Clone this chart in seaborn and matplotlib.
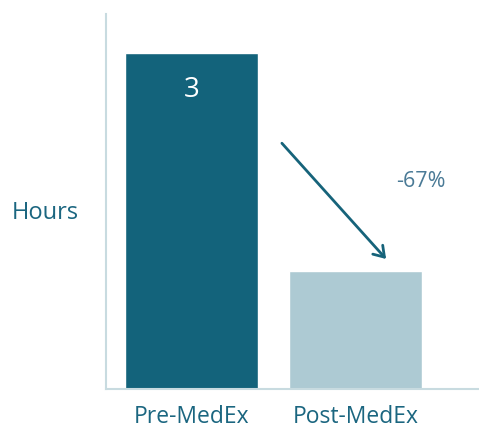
import matplotlib
matplotlib.use("Agg")
import matplotlib.pyplot as plt
import seaborn as sns
import pandas as pd

categories = ["Pre-MedEx", "Post-MedEx"]
hours = [3.0, 1.05]
bar_labels = ["3", ""]
change_label = "-67%"
colors = ["#13637b", "#adcad3"]

sns.set_theme(style="white")
plt.rcParams["font.family"] = ["Open Sans", "DejaVu Sans"]

df = pd.DataFrame({"cat": categories, "hours": hours})
fig = plt.figure(figsize=(4.79, 4.31), dpi=100)
ax = fig.add_axes([106/479, 41/431, 1 - 106/479, (390-15)/431])
sns.barplot(data=df, x="cat", y="hours", hue="cat", palette=colors,
            width=0.81, legend=False, ax=ax, saturation=1)

ax.set_xlim(-0.521, 1.753)
ax.set_ylim(0, 3.35)
ax.set_xlabel("")
ax.set_ylabel("")
ax.set_yticks([])
for s in ["top", "right"]:
    ax.spines[s].set_visible(False)
for s in ["left", "bottom"]:
    ax.spines[s].set_color("#c8dbe0")
    ax.spines[s].set_linewidth(1.5)
ax.tick_params(axis="x", length=0, pad=11, labelsize=16.5, labelcolor="#1b6680")

for i, (v, lab) in enumerate(zip(hours, bar_labels)):
    if lab:
        ax.text(i, 2.68, lab, ha="center", va="center", color="white", fontsize=20)

ax.annotate("", xy=(1.198, 1.143), xytext=(0.54, 2.214),
            arrowprops=dict(arrowstyle="->,head_length=0.6,head_width=0.4",
                            color="#16637a", lw=2))
ax.text(1.40, 1.866, change_label, ha="center", va="center", color="#4a7a96", fontsize=15.5)

fig.text(45/479, 1 - 213/431, "Hours", ha="center", va="center", color="#1b6680", fontsize=17)

fig.savefig("out.png", dpi=100)
